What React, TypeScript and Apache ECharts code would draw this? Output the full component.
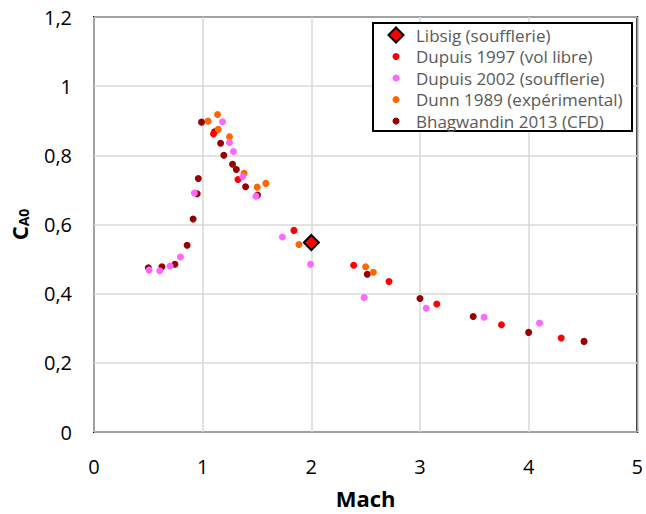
import React, { useEffect, useRef } from "react";
import * as echarts from "echarts";

// Libsig (soufflerie)
const libsigMach = [2.0];
const libsigCA0 = [0.548];

// Dupuis 1997 (vol libre)
const dupuis1997Mach = [1.1, 1.325, 1.84, 2.39, 2.715, 3.155, 3.75, 4.3];
const dupuis1997CA0 = [0.862, 0.73, 0.583, 0.482, 0.435, 0.37, 0.31, 0.272];

// Dupuis 2002 (soufflerie)
const dupuis2002Mach = [0.507, 0.605, 0.7, 0.796, 0.924, 1.183, 1.247, 1.283, 1.369, 1.49, 1.734, 1.993, 2.486, 3.058, 3.59, 4.1];
const dupuis2002CA0 = [0.468, 0.466, 0.48, 0.506, 0.691, 0.897, 0.837, 0.811, 0.738, 0.682, 0.564, 0.485, 0.389, 0.358, 0.332, 0.315];

// Dunn 1989 (expérimental)
const dunnMach = [1.05, 1.137, 1.143, 1.247, 1.381, 1.502, 1.582, 1.886, 2.5, 2.571];
const dunnCA0 = [0.899, 0.918, 0.875, 0.854, 0.748, 0.708, 0.719, 0.542, 0.478, 0.462];

// Bhagwandin 2013 (CFD)
const bhagMach = [0.5, 0.625, 0.745, 0.857, 0.912, 0.95, 0.96, 0.99, 1.11, 1.165, 1.195, 1.275, 1.31, 1.395, 1.505, 2.515, 3.0, 3.49, 4.0, 4.51];
const bhagCA0 = [0.475, 0.478, 0.485, 0.54, 0.616, 0.689, 0.733, 0.896, 0.868, 0.835, 0.8, 0.774, 0.759, 0.709, 0.685, 0.456, 0.386, 0.334, 0.288, 0.262];

const seriesNames = [
  "Libsig (soufflerie)",
  "Dupuis 1997 (vol libre)",
  "Dupuis 2002 (soufflerie)",
  "Dunn 1989 (expérimental)",
  "Bhagwandin 2013 (CFD)",
];

const xTicks = [0, 5, 1];
const yTicks = [0, 1.2, 0.2];

const zip = (xs: number[], ys: number[]) => xs.map((x, i) => [x, ys[i]]);

const FONT = "'Open Sans', sans-serif";

export default function App() {
  const ref = useRef<HTMLDivElement>(null);
  useEffect(() => {
    document.body.style.margin = "0";
    if (!ref.current) return;
    const chart = echarts.init(ref.current, undefined, { renderer: "svg" });
    const dot = (name: string, color: string, xs: number[], ys: number[]) => ({
      name,
      type: "scatter",
      data: zip(xs, ys),
      symbol: "circle",
      symbolSize: 7,
      itemStyle: { color, opacity: 1 },
      emphasis: { disabled: true },
    });
    chart.setOption({
      animation: false,
      textStyle: { fontFamily: FONT },
      grid: {
        left: 93,
        right: 6,
        top: 17,
        bottom: 79.5,
        show: true,
        borderColor: "#000",
        borderWidth: 2,
        backgroundColor: "transparent",
      },
      xAxis: {
        type: "value",
        min: xTicks[0],
        max: xTicks[1],
        interval: xTicks[2],
        name: "Mach",
        nameLocation: "middle",
        nameGap: 55,
        nameTextStyle: { fontSize: 22, fontWeight: "bold", color: "#000", fontFamily: FONT },
        axisLine: { show: false },
        axisTick: { show: false },
        axisLabel: { fontSize: 20, color: "#000", margin: 24, fontFamily: FONT },
        splitLine: { show: true, lineStyle: { color: "#d9d9d9", width: 1.5 } },
      },
      yAxis: {
        type: "value",
        min: yTicks[0],
        max: yTicks[1],
        interval: yTicks[2],
        name: "{c|C}{s|A0}",
        nameLocation: "middle",
        nameGap: 64,
        nameTextStyle: {
          color: "#000",
          fontFamily: FONT,
          rich: {
            c: { fontSize: 22, fontWeight: "bold", color: "#000", fontFamily: FONT, verticalAlign: "bottom" },
            s: { fontSize: 14, fontWeight: "bold", color: "#000", fontFamily: FONT, verticalAlign: "bottom" },
          },
        },
        axisLine: { show: false },
        axisTick: { show: false },
        axisLabel: {
          fontSize: 20,
          color: "#000",
          margin: 22,
          fontFamily: FONT,
          formatter: (v: number) => String(Math.round(v * 10) / 10).replace(".", ","),
        },
        splitLine: { show: true, lineStyle: { color: "#d9d9d9", width: 1.5 } },
      },
      graphic: [
        {
          type: "rect",
          z: 3,
          shape: { x: 373, y: 23, width: 259, height: 108 },
          style: { fill: "#fff", stroke: "#000", lineWidth: 2 },
        },
      ],
      legend: [
        {
          data: [{ name: seriesNames[0], icon: "path://M0 -1 L1 0 L0 1 L-1 0 Z" }],
          orient: "vertical",
          left: 387.5,
          top: 25,
          padding: 0,
          itemWidth: 30,
          itemHeight: 15,
          symbolKeepAspect: true,
          selectedMode: false,
          textStyle: { fontSize: 17, color: "#595959", fontFamily: FONT, lineHeight: 20 },
        },
        {
          data: seriesNames.slice(1),
          orient: "vertical",
          left: 392.5,
          top: 46.5,
          padding: 0,
          itemWidth: 30,
          itemHeight: 7,
          itemGap: 1.5,
          selectedMode: false,
          textStyle: { fontSize: 17, color: "#595959", fontFamily: FONT, lineHeight: 20 },
        },
      ],
      series: [
        dot(seriesNames[4], "#990000", bhagMach, bhagCA0),
        dot(seriesNames[3], "#FF6600", dunnMach, dunnCA0),
        dot(seriesNames[1], "#FF0000", dupuis1997Mach, dupuis1997CA0),
        dot(seriesNames[2], "#FF66FF", dupuis2002Mach, dupuis2002CA0),
        {
          name: seriesNames[0],
          type: "scatter",
          data: zip(libsigMach, libsigCA0),
          symbol: "diamond",
          symbolSize: 15,
          itemStyle: { color: "#FF0000", borderColor: "#000", borderWidth: 2, opacity: 1 },
          emphasis: { disabled: true },
          z: 3,
        },
      ],
    });
    return () => chart.dispose();
  }, []);
  return <div ref={ref} style={{ width: 646, height: 514 }} />;
}
